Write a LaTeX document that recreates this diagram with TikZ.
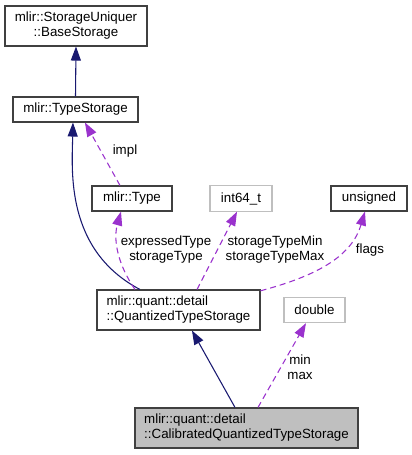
\documentclass[tikz,border=0pt]{standalone}
\usepackage{fontspec}
\setmainfont{Liberation Sans}
\usetikzlibrary{arrows.meta}
\definecolor{inherit}{RGB}{25,25,112}
\definecolor{usage}{RGB}{154,50,205}
\definecolor{boxline}{RGB}{64,64,64}
\definecolor{boxgray}{RGB}{191,191,191}

\begin{document}
\begin{tikzpicture}[x=0.75pt, y=-0.75pt,
        every node/.style={font=\fontsize{10}{11.25}\selectfont, inner sep=0pt},
        classbox/.style={draw=boxline, line width=0.8pt, fill=white, minimum height=18.75pt},
        extbox/.style={draw=boxgray, line width=0.8pt, fill=white, minimum height=19pt},
        twoline/.style={minimum height=30pt},
        derive/.style={draw=inherit, line width=0.8pt, -{Triangle[length=10.5pt,width=7.5pt]}},
        member/.style={draw=usage, line width=0.8pt, dash pattern=on 4.5pt off 3pt, -{Triangle[length=10.5pt,width=7.5pt]}},
        edgelabel/.style={align=center}]
        \useasboundingbox (0,0) rectangle (412,455);
        % classes
        \node[classbox, twoline, minimum width=106.5pt, align=center] (base) at (76,26) {mlir::StorageUniquer\\::BaseStorage};
        \node[classbox, minimum width=93.75pt] (ts) at (75.5,109.5) {mlir::TypeStorage};
        \node[classbox, minimum width=60pt] (type) at (132,198.5) {mlir::Type};
        \node[extbox, minimum width=46.5pt] (int) at (241,198.5) {int64\_t};
        \node[classbox, minimum width=57pt] (uns) at (369,198.5) {unsigned};
        \node[classbox, twoline, minimum width=122.25pt, align=left] (qts) at (178.5,310) {mlir::quant::detail\\::QuantizedTypeStorage};
        \node[extbox, minimum width=45.75pt] (dbl) at (314.5,310) {double};
        \node[classbox, twoline, fill=boxgray, minimum width=167.25pt, align=left] (cal) at (246.5,428) {mlir::quant::detail\\::CalibratedQuantizedTypeStorage};
        % inheritance
        \draw[derive] (ts.north) -- (base.south);
        \draw[derive] ([xshift=-28.9pt]qts.north) .. controls (65,250) and (72,170) .. ([xshift=-1.9pt]ts.south);
        \draw[derive] ([xshift=-8.6pt]cal.north) -- ([xshift=10.1pt]qts.south);
        % members
        \draw[member] ([xshift=-9pt]type.north) -- ([xshift=7.1pt]ts.south);
        \draw[member] ([xshift=-32.6pt]qts.north) .. controls (118,265) and (113,240) .. ([xshift=-8.25pt]type.south);
        \draw[member] ([xshift=13.9pt]qts.north) -- ([xshift=-3pt]int.south);
        \draw[member] ([yshift=-1pt]qts.north east) .. controls (320,275) and (352,255) .. ([xshift=-3pt]uns.south);
        \draw[member] ([xshift=8.6pt]cal.north) -- ([xshift=-6.4pt]dbl.south);
        % member names
        \node[edgelabel] (limpl) at (125,151) {impl};
        \node[edgelabel] (ltype) at (166,250) {expressedType\\storageType};
        \node[edgelabel] (lint) at (275,250) {storageTypeMin\\storageTypeMax};
        \node[edgelabel] (lflags) at (370,250) {flags};
        \node[edgelabel] (lmin) at (300,367) {min\\max};
\end{tikzpicture}
\end{document}
